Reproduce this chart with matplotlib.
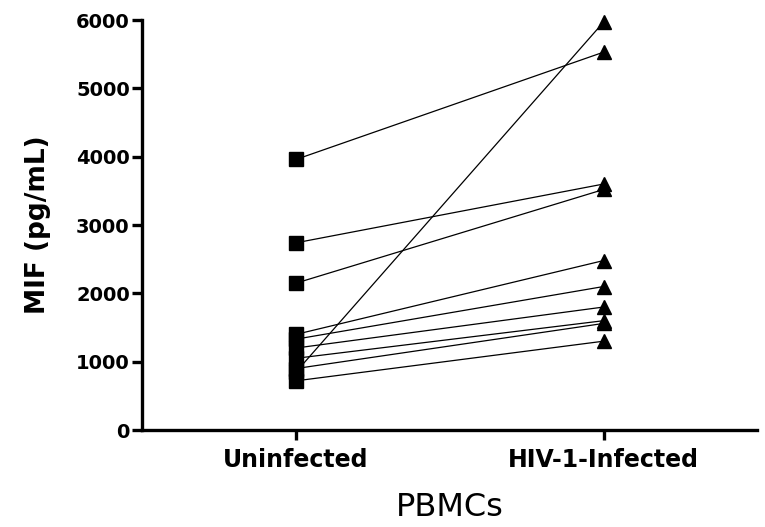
import matplotlib.pyplot as plt

groups = ["Uninfected", "HIV-1-Infected"]
uninfected = [3960, 2740, 2150, 1400, 1330, 1200, 1050, 900, 720, 850]
infected = [5530, 3600, 3520, 2480, 2100, 1800, 1600, 1560, 1300, 5970]
yticks = [0, 1000, 2000, 3000, 4000, 5000, 6000]

fig = plt.figure(figsize=(7.65, 5.27), dpi=100)
ax = fig.add_axes([0.186, 0.184, 0.804, 0.778])

for a, b in zip(uninfected, infected):
    ax.plot([0, 1], [a, b], color="black", lw=0.9, zorder=2, clip_on=False)
ax.plot([0] * len(uninfected), uninfected, "s", color="black", ms=10.5,
        zorder=3, clip_on=False)
ax.plot([1] * len(infected), infected, "^", color="black", ms=9.5,
        zorder=3, clip_on=False)

ax.set_xlim(-0.5, 1.5)
ax.set_ylim(0, 6000)
ax.set_yticks(yticks)
ax.set_xticks([0, 1])
ax.set_xticklabels(groups, fontsize=17, fontweight="bold", family="DejaVu Sans")
ax.set_yticklabels([str(t) for t in yticks], fontsize=14, fontweight="bold",
                   family="DejaVu Sans")

for s in ["top", "right"]:
    ax.spines[s].set_visible(False)
for s in ["left", "bottom"]:
    ax.spines[s].set_linewidth(2.4)
ax.tick_params(axis="y", width=2.4, length=7, pad=2)
ax.tick_params(axis="x", width=2.4, length=7, pad=6)

ax.set_ylabel("MIF (pg/mL)", fontsize=19, fontweight="bold", family="DejaVu Sans",
              labelpad=18)
ax.set_xlabel("PBMCs", fontsize=23, family="DejaVu Sans", labelpad=14)

fig.savefig("out.png")
